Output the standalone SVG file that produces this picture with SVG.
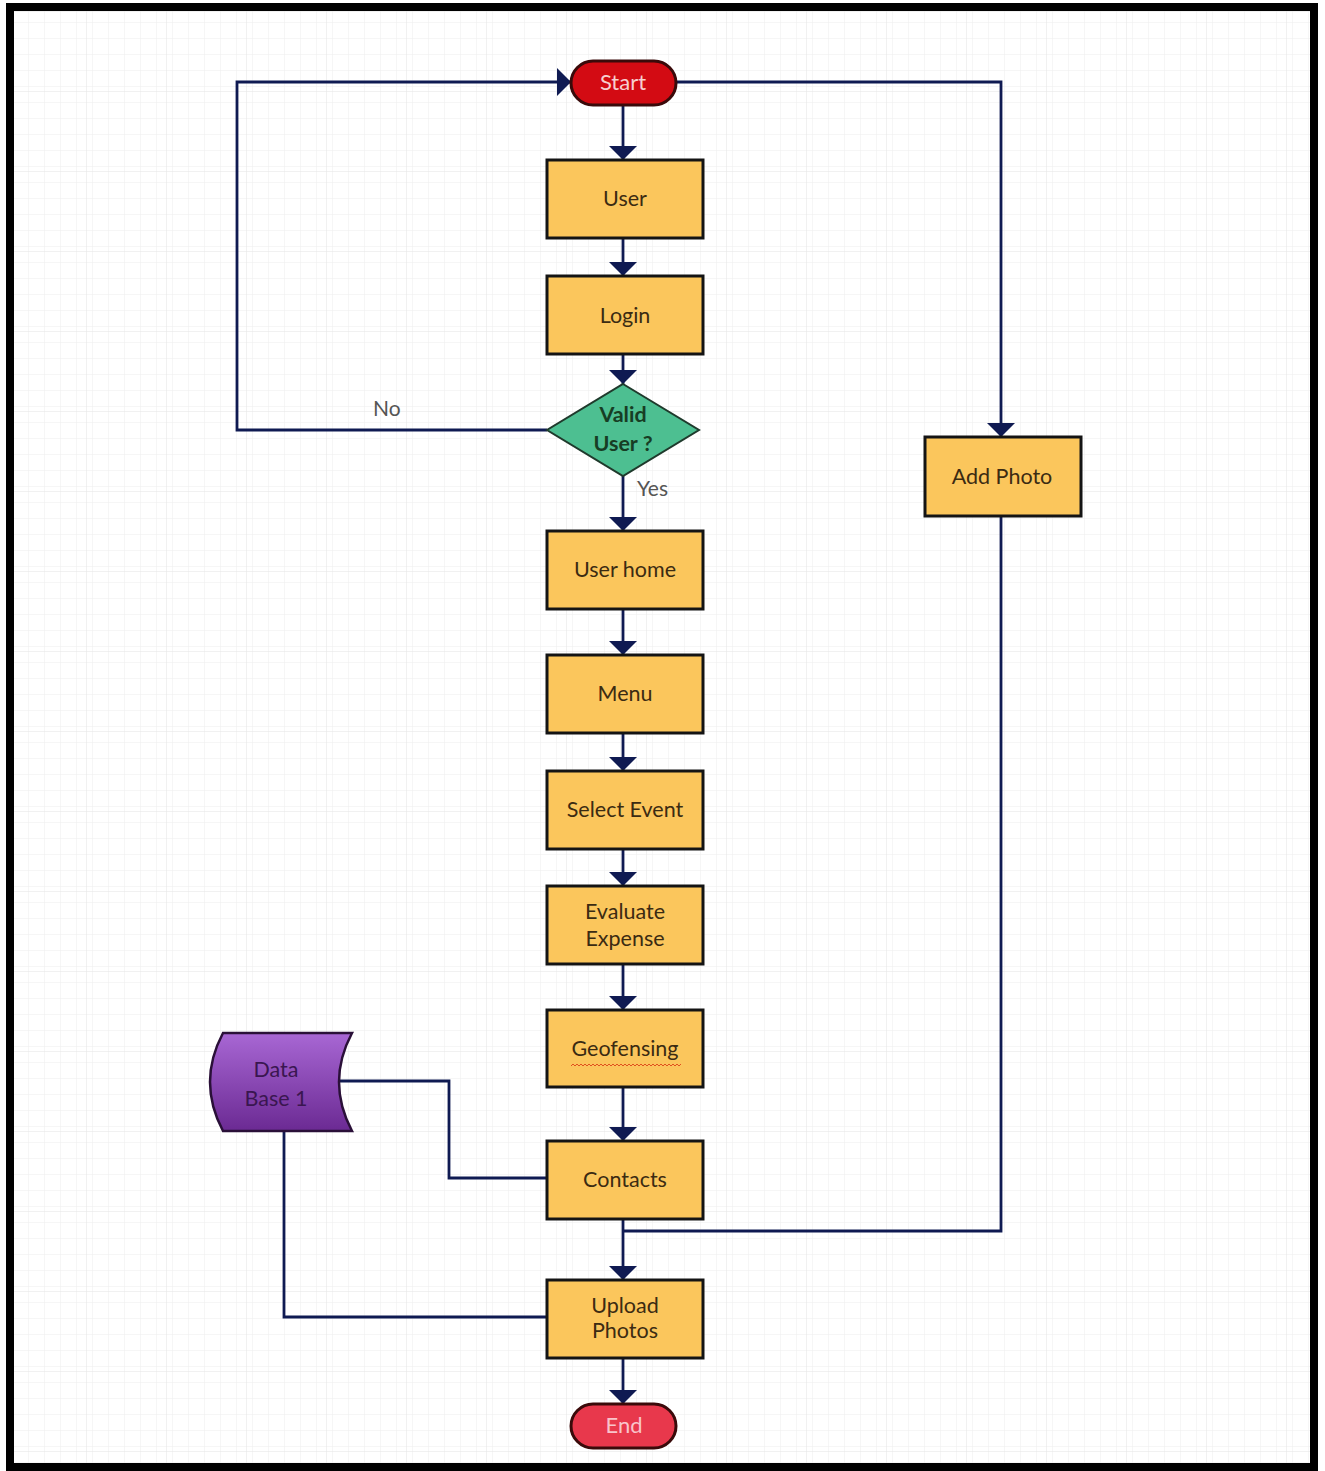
<svg xmlns="http://www.w3.org/2000/svg" width="1325" height="1471" viewBox="0 0 1325 1471">
  <defs>
    <pattern id="gridMinor" width="16" height="16" patternUnits="userSpaceOnUse" x="6" y="11">
      <path d="M16,0 L0,0 L0,16" fill="none" stroke="#ededed" stroke-width="1"/>
    </pattern>
    <pattern id="gridMajor" width="80" height="80" patternUnits="userSpaceOnUse" x="6" y="11">
      <rect width="80" height="80" fill="url(#gridMinor)"/>
      <path d="M80,0 L0,0 L0,80" fill="none" stroke="#e3e3e3" stroke-width="1"/>
    </pattern>
    <linearGradient id="dbFill" x1="0" y1="0" x2="0" y2="1">
      <stop offset="0" stop-color="#a867d4"/>
      <stop offset="1" stop-color="#6b2a93"/>
    </linearGradient>
    <marker id="arrow" viewBox="0 0 14 28" refX="14" refY="14" markerWidth="14" markerHeight="28" markerUnits="userSpaceOnUse" orient="auto">
      <path d="M0,0 L14,14 L0,28 Z" fill="#0f1a52"/>
    </marker>
    <style>
      .box { fill: #fbc65c; stroke: #141414; stroke-width: 3; }
      .lbl { font-family: Lato, "Open Sans", "Liberation Sans", sans-serif; font-size: 21.5px; fill: #3b2b12; text-anchor: middle; }
      .term { font-family: Lato, "Open Sans", "Liberation Sans", sans-serif; font-size: 22px; text-anchor: middle; }
      .edge { fill: none; stroke: #0f1a52; stroke-width: 2.8; }
      .note { font-family: Lato, "Open Sans", "Liberation Sans", sans-serif; font-size: 21px; fill: #555555; }
    </style>
  </defs>

  <!-- canvas with grid and frame -->
  <rect x="0" y="0" width="1325" height="1471" fill="#ffffff"/>
  <rect x="10" y="7" width="1304" height="1460" fill="url(#gridMajor)"/>
  <rect x="10" y="7" width="1304" height="1460" fill="none" stroke="#000000" stroke-width="8"/>

  <!-- connectors -->
  <g id="connectors">
    <path class="edge" d="M623,105 L623,160" marker-end="url(#arrow)"/>
    <path class="edge" d="M623,238 L623,276" marker-end="url(#arrow)"/>
    <path class="edge" d="M623,354 L623,384" marker-end="url(#arrow)"/>
    <path class="edge" d="M623,476 L623,531" marker-end="url(#arrow)"/>
    <path class="edge" d="M623,609 L623,655" marker-end="url(#arrow)"/>
    <path class="edge" d="M623,733 L623,771" marker-end="url(#arrow)"/>
    <path class="edge" d="M623,849 L623,886" marker-end="url(#arrow)"/>
    <path class="edge" d="M623,964 L623,1010" marker-end="url(#arrow)"/>
    <path class="edge" d="M623,1087 L623,1141" marker-end="url(#arrow)"/>
    <path class="edge" d="M623,1219 L623,1280" marker-end="url(#arrow)"/>
    <path class="edge" d="M623,1358 L623,1404" marker-end="url(#arrow)"/>
    <!-- "No" branch back to Start -->
    <path class="edge" d="M547,430 L237,430 L237,82 L571,82" marker-end="url(#arrow)"/>
    <!-- Start to Add Photo -->
    <path class="edge" d="M676,82 L1001,82 L1001,437" marker-end="url(#arrow)"/>
    <!-- Add Photo joins the Contacts / Upload Photos line -->
    <path class="edge" d="M1001,516 L1001,1231 L623,1231"/>
    <!-- Data Base links -->
    <path class="edge" d="M340,1081 L449,1081 L449,1178 L547,1178"/>
    <path class="edge" d="M284,1131 L284,1317 L547,1317"/>
    <text class="note" x="373" y="416">No</text>
    <text class="note" x="637" y="496">Yes</text>
  </g>

  <g id="start">
    <rect x="571" y="61" width="105" height="44" rx="22" fill="#d30b13" stroke="#3a0a0a" stroke-width="3"/>
    <text class="term" x="623" y="90" fill="#f7cfcf">Start</text>
  </g>

  <g id="user">
    <rect class="box" x="547" y="160" width="156" height="78"/>
    <text class="lbl" x="625" y="206">User</text>
  </g>

  <g id="login">
    <rect class="box" x="547" y="276" width="156" height="78"/>
    <text class="lbl" x="625" y="323">Login</text>
  </g>

  <g id="valid-user">
    <path d="M623,384 L699,430 L623,476 L547,430 Z" fill="#4dbf91" stroke="#1f3a2c" stroke-width="2"/>
    <text class="lbl" x="623" y="422" font-weight="bold" style="fill:#173d24">Valid</text>
    <text class="lbl" x="623" y="451" font-weight="bold" style="fill:#173d24">User ?</text>
  </g>

  <g id="user-home">
    <rect class="box" x="547" y="531" width="156" height="78"/>
    <text class="lbl" x="625" y="577">User home</text>
  </g>

  <g id="menu">
    <rect class="box" x="547" y="655" width="156" height="78"/>
    <text class="lbl" x="625" y="701">Menu</text>
  </g>

  <g id="select-event">
    <rect class="box" x="547" y="771" width="156" height="78"/>
    <text class="lbl" x="625" y="817">Select Event</text>
  </g>

  <g id="evaluate-expense">
    <rect class="box" x="547" y="886" width="156" height="78"/>
    <text class="lbl" x="625" y="919">Evaluate</text>
    <text class="lbl" x="625" y="946">Expense</text>
  </g>

  <g id="geofensing">
    <rect class="box" x="547" y="1010" width="156" height="77"/>
    <text class="lbl" x="625" y="1056">Geofensing</text>
    <path d="M571,1066 l2,-2 l2,2 l2,-2 l2,2 l2,-2 l2,2 l2,-2 l2,2 l2,-2 l2,2 l2,-2 l2,2 l2,-2 l2,2 l2,-2 l2,2 l2,-2 l2,2 l2,-2 l2,2 l2,-2 l2,2 l2,-2 l2,2 l2,-2 l2,2 l2,-2 l2,2 l2,-2 l2,2 l2,-2 l2,2 l2,-2 l2,2 l2,-2 l2,2 l2,-2 l2,2 l2,-2 l2,2 l2,-2 l2,2 l2,-2 l2,2 l2,-2 l2,2 l2,-2 l2,2 l2,-2 l2,2 l2,-2 l2,2 l2,-2 l2,2 l2,-2" fill="none" stroke="#e0501e" stroke-width="1"/>
  </g>

  <g id="contacts">
    <rect class="box" x="547" y="1141" width="156" height="78"/>
    <text class="lbl" x="625" y="1187">Contacts</text>
  </g>

  <g id="upload-photos">
    <rect class="box" x="547" y="1280" width="156" height="78"/>
    <text class="lbl" x="625" y="1313">Upload</text>
    <text class="lbl" x="625" y="1338">Photos</text>
  </g>

  <g id="end">
    <rect x="571" y="1404" width="105" height="44" rx="22" fill="#e8384c" stroke="#3a0a0a" stroke-width="3"/>
    <text class="term" x="624" y="1433" fill="#f9c4cb">End</text>
  </g>

  <g id="add-photo">
    <rect class="box" x="925" y="437" width="156" height="79"/>
    <text class="lbl" x="1002" y="484">Add Photo</text>
  </g>

  <g id="data-base-1">
    <path d="M223,1033 L352,1033 Q326,1082 352,1131 L223,1131 Q197,1082 223,1033 Z" fill="url(#dbFill)" stroke="#2a1038" stroke-width="2.5"/>
    <text class="lbl" x="276" y="1077" style="fill:#3a1650">Data</text>
    <text class="lbl" x="276" y="1106" style="fill:#3a1650">Base 1</text>
  </g>
</svg>
